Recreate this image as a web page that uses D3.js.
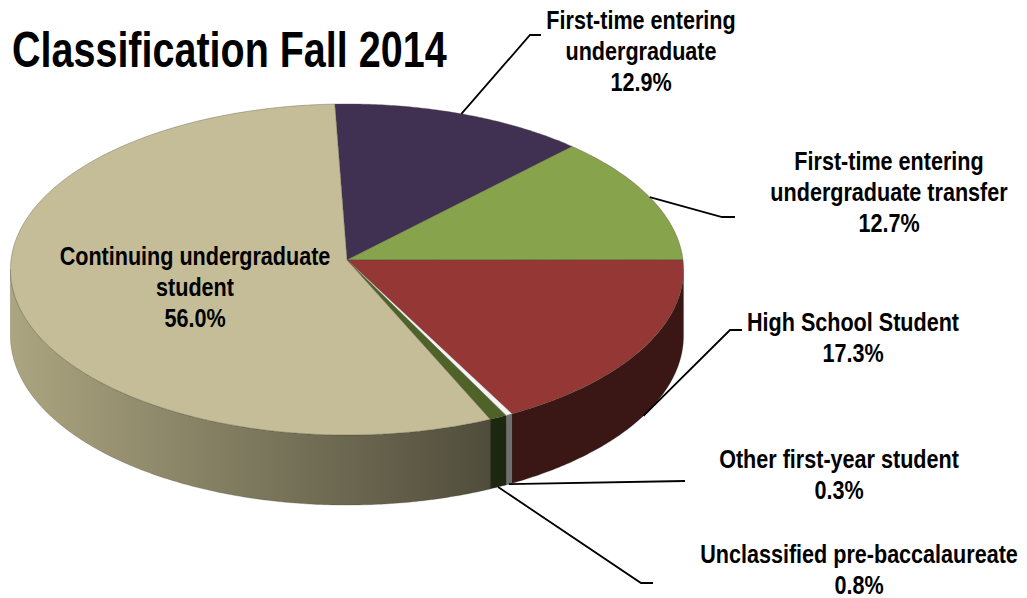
<!DOCTYPE html>
<html>
<head>
<meta charset="utf-8">
<script src="https://cdn.jsdelivr.net/npm/d3@7"></script>
<style>
  body { margin: 0; background: #fff; }
  text { font-family: "Liberation Sans", Arial, sans-serif; font-weight: bold; fill: #000; }
</style>
</head>
<body>
<div id="chart"></div>
<script>
// data
var categories = ["First-time entering undergraduate", "First-time entering undergraduate transfer",
    "High School Student", "Other first-year student", "Unclassified pre-baccalaureate",
    "Continuing undergraduate student"];
var values = [12.9, 12.7, 17.3, 0.3, 0.8, 56.0];

// colours (top face, side light, side dark)
var topColors = ["#403152", "#87a34c", "#953735", "#f4f4f4", "#4f6228", "#c4bd97"];
var sideLight = ["#2a2036", "#5a6d32", "#451d1b", "#9a9a9a", "#222d12", "#aba580"];
var sideDark = ["#2a2036", "#5a6d32", "#3a1715", "#6e6e6e", "#1d2710", "#4a4737"];

// label layout: text lines, centre x, first baseline, leader elbow/end, anchor on rim (0 top, 1 bottom)
var labelLayout = [
    {lines: ["First-time entering", "undergraduate"], x: 641, y: 29, elbow: [530, 35], end: [541, 35], rim: 0},
    {lines: ["First-time entering", "undergraduate transfer"], x: 889, y: 170, elbow: [722, 217], end: [735, 217], rim: 0},
    {lines: ["High School Student"], x: 853, y: 331, elbow: [730, 330], end: [742, 330], rim: 1},
    {lines: ["Other first-year student"], x: 839, y: 468, elbow: [685, 481], end: [685, 481], rim: 1},
    {lines: ["Unclassified pre-baccalaureate"], x: 859, y: 563, elbow: [641, 583], end: [653, 583], rim: 1},
    {lines: ["Continuing undergraduate", "student"], x: 195, y: 265, inside: true}
];

var width = 1027, height = 598;
var cx = 347, cy = 260, rx = 336, ry = 165, depth = 66, persp = 0.0574;
var lineH = 31;
var narrow = 0.83; // squeeze to mimic a narrow face

var svg = d3.select("#chart").append("svg")
    .attr("width", width)
    .attr("height", height);

// project a point on the disk (angle from top, clockwise) with z going down
function proj(a, r, z) {
    var X = r * Math.sin(a), Y = -r * Math.cos(a);
    var s = 1 / (1 - persp * Y);
    return [cx + rx * X * s, cy + ry * Y * s + z * depth * s];
}

var start = -2.2 * Math.PI / 180;
var pie = d3.pie().sort(null).startAngle(start).endAngle(start + 2 * Math.PI);
var arcs = pie(values);

var defs = svg.append("defs");
arcs.forEach(function(d, i) {
    var g = defs.append("linearGradient")
        .attr("id", "side" + i)
        .attr("gradientUnits", "userSpaceOnUse")
        .attr("x1", 10).attr("x2", 520).attr("y1", 0).attr("y2", 0);
    g.append("stop").attr("offset", 0).attr("stop-color", sideLight[i]);
    g.append("stop").attr("offset", 1).attr("stop-color", sideDark[i]);
});

function arcPoints(a0, a1, z) {
    var n = Math.max(2, Math.ceil(Math.abs(a1 - a0) / 0.01));
    var pts = [];
    for (var k = 0; k <= n; k++) {
        pts.push(proj(a0 + (a1 - a0) * k / n, 1, z));
    }
    return pts;
}

var line = d3.line();

// visible front range of the side wall
var tang = Math.acos(-persp);
var frontA = tang, frontB = 2 * Math.PI - tang;

var sides = svg.append("g");
arcs.forEach(function(d, i) {
    var a0 = Math.max(d.startAngle, frontA), a1 = Math.min(d.endAngle, frontB);
    if (a1 <= a0) return;
    var pts = arcPoints(a0, a1, 0).concat(arcPoints(a1, a0, 1));
    sides.append("path")
        .attr("d", line(pts) + "Z")
        .attr("fill", "url(#side" + i + ")")
        .attr("stroke", "#3a3a2c")
        .attr("stroke-opacity", 0.35)
        .attr("stroke-width", 0.7);
});

var tops = svg.append("g");
arcs.forEach(function(d, i) {
    var pts = [proj(0, 0, 0)].concat(arcPoints(d.startAngle, d.endAngle, 0));
    tops.append("path")
        .attr("d", line(pts) + "Z")
        .attr("fill", topColors[i])
        .attr("stroke", i === 3 ? "#9a9a9a" : "#4a4a38")
        .attr("stroke-opacity", 0.5)
        .attr("stroke-width", 0.7);
});

// leader lines
var leaders = svg.append("g");
arcs.forEach(function(d, i) {
    var L = labelLayout[i];
    if (L.inside) return;
    var mid = (d.startAngle + d.endAngle) / 2;
    var p = proj(mid, 1, L.rim);
    leaders.append("path")
        .attr("d", line([p, L.elbow, L.end]))
        .attr("fill", "none")
        .attr("stroke", "#000")
        .attr("stroke-width", 1.8);
});

// labels
var fmt = d3.format(".1f");
var labels = svg.append("g");
arcs.forEach(function(d, i) {
    var L = labelLayout[i];
    var lines = L.lines.concat([fmt(values[i]) + "%"]);
    var t = labels.append("text")
        .attr("transform", "translate(" + L.x + "," + L.y + ") scale(" + narrow + ",1)")
        .attr("text-anchor", "middle")
        .attr("font-size", 26);
    lines.forEach(function(s, j) {
        t.append("tspan")
            .attr("x", 0)
            .attr("y", j * lineH)
            .text(s);
    });
});

svg.append("text")
    .attr("transform", "translate(12,67) scale(0.79,1)")
    .attr("font-size", 50)
    .text("Classification Fall 2014");
</script>
</body>
</html>
